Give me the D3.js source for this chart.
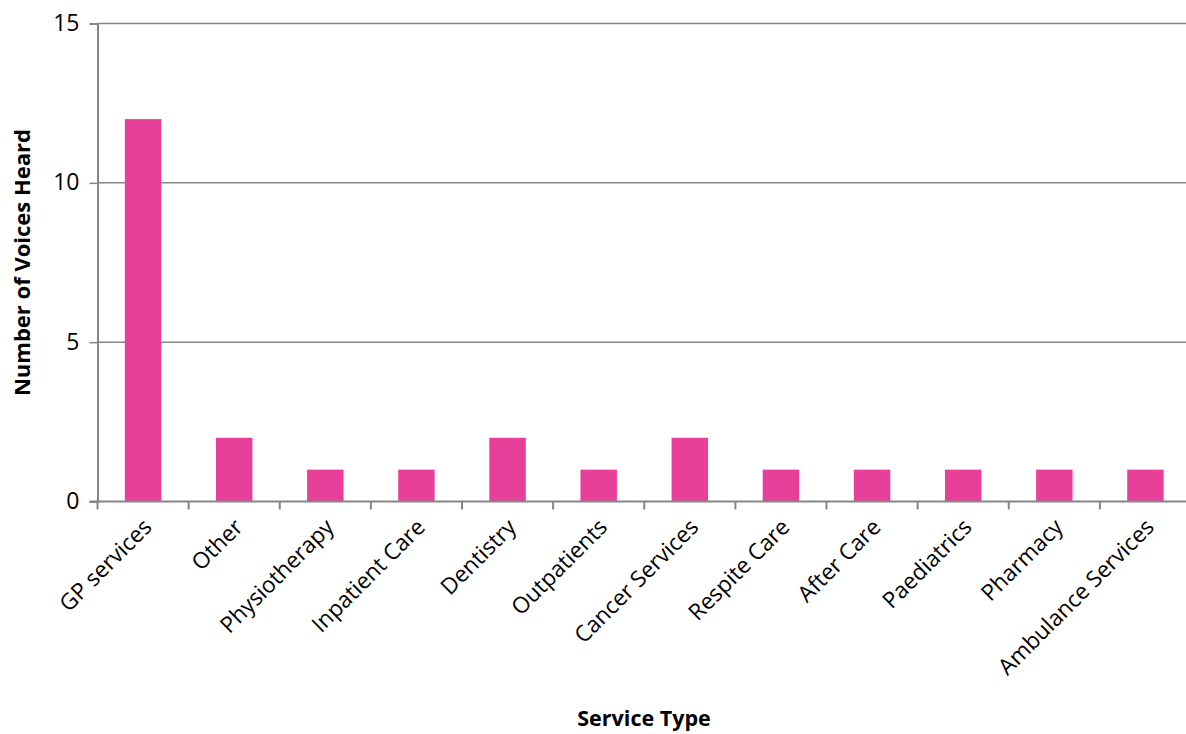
<!DOCTYPE html>
<html>
<head>
<meta charset="utf-8">
<script src="https://cdn.jsdelivr.net/npm/d3@7"></script>
<style>
  body { margin: 0; background: #fff; }
  svg text { font-family: "Open Sans", "Liberation Sans", sans-serif; }
</style>
</head>
<body>
<div id="chart"></div>
<script>
const categories = ['GP services', 'Other', 'Physiotherapy', 'Inpatient Care', 'Dentistry', 'Outpatients',
  'Cancer Services', 'Respite Care', 'After Care', 'Paediatrics', 'Pharmacy', 'Ambulance Services'];
const voices = [12, 2, 1, 1, 2, 1, 2, 1, 1, 1, 1, 1];
const yTicks = [0, 5, 10, 15];

const width = 1186, height = 734;
const margin = { top: 23.5, right: -5, bottom: 232.5, left: 97.5 };

const svg = d3.select('#chart')
  .append('svg')
  .attr('width', width)
  .attr('height', height);

const x = d3.scaleBand()
  .domain(categories)
  .range([margin.left, width - margin.right])
  .paddingInner(0.6)
  .paddingOuter(0.3);

const y = d3.scaleLinear()
  .domain([0, 15])
  .range([height - margin.bottom, margin.top]);

// gridlines + y labels
const yAxis = svg.append('g')
  .attr('transform', `translate(${margin.left},0)`)
  .call(d3.axisLeft(y).tickValues(yTicks).tickSize(8).tickPadding(10));
yAxis.select('.domain').attr('stroke', '#868686').attr('stroke-width', 2);
yAxis.selectAll('.tick line').attr('stroke', '#868686').attr('stroke-width', 1.5);
yAxis.selectAll('.tick text').attr('font-size', 23).attr('fill', '#000').attr('dy', '0.3em');

svg.append('g')
  .selectAll('line')
  .data(yTicks.filter(d => d > 0))
  .enter()
  .append('line')
  .attr('x1', margin.left)
  .attr('x2', width)
  .attr('y1', d => y(d))
  .attr('y2', d => y(d))
  .attr('stroke', '#868686')
  .attr('stroke-width', 1.5);

// bars
svg.selectAll('rect.bar')
  .data(categories)
  .enter()
  .append('rect')
  .attr('class', 'bar')
  .attr('x', d => x(d))
  .attr('width', x.bandwidth())
  .attr('y', (d, i) => y(voices[i]))
  .attr('height', (d, i) => y(0) - y(voices[i]))
  .attr('fill', '#E8409A');

// x axis line and ticks at band boundaries
const baseY = y(0);
svg.append('line')
  .attr('x1', margin.left - 8)
  .attr('x2', width)
  .attr('y1', baseY)
  .attr('y2', baseY)
  .attr('stroke', '#868686')
  .attr('stroke-width', 2);

const step = x.step();
const bounds = d3.range(categories.length + 1).map(i => margin.left + i * step);
svg.append('g')
  .selectAll('line')
  .data(bounds)
  .enter()
  .append('line')
  .attr('x1', d => d)
  .attr('x2', d => d)
  .attr('y1', baseY)
  .attr('y2', baseY + 8)
  .attr('stroke', '#868686')
  .attr('stroke-width', 2);

// rotated category labels
svg.append('g')
  .selectAll('text')
  .data(categories)
  .enter()
  .append('text')
  .attr('transform', d => `translate(${x(d) + x.bandwidth() / 2 + 10},${baseY + 27}) rotate(-45)`)
  .attr('text-anchor', 'end')
  .attr('font-size', 22.5)
  .attr('fill', '#000')
  .text(d => d);

// axis titles
svg.append('text')
  .attr('transform', `translate(30,${(margin.top + baseY) / 2}) rotate(-90)`)
  .attr('text-anchor', 'middle')
  .attr('font-size', 22)
  .attr('font-weight', 'bold')
  .text('Number of Voices Heard');

svg.append('text')
  .attr('x', 644)
  .attr('y', 726)
  .attr('text-anchor', 'middle')
  .attr('font-size', 21.5)
  .attr('font-weight', 'bold')
  .text('Service Type');
</script>
</body>
</html>
